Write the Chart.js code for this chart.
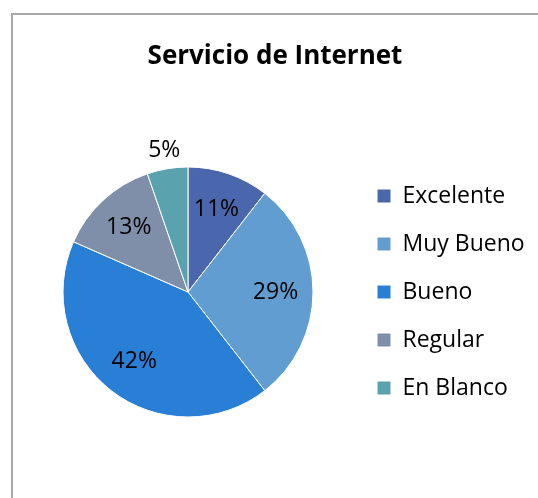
<!DOCTYPE html>
<html>
<head>
<meta charset="utf-8">
<script src="https://cdn.jsdelivr.net/npm/chart.js@4/dist/chart.umd.min.js"></script>
<style>
  html, body { margin: 0; padding: 0; background: #fff; overflow: hidden; }
  .frame {
    position: absolute; left: 11px; top: 13px; width: 600px; height: 600px;
    border-left: 2px solid #a8a8a8; border-top: 2px solid #a8a8a8;
  }
  .wrap { position: absolute; left: 0; top: 0; width: 538px; height: 498px; }
</style>
</head>
<body>
<div class="frame"></div>
<div class="wrap"><canvas id="graph" width="538" height="498"></canvas></div>
<script>
// categorias y respuestas (conteos)
const categories = ['Excelente', 'Muy Bueno', 'Bueno', 'Regular', 'En Blanco'];
const counts = [4, 11, 16, 5, 2];
const colors = ['#4A66AC', '#629DD1', '#297FD5', '#7F8FA9', '#5AA2AE'];
const title = 'Servicio de Internet';

const fontFamily = '"Open Sans", "Noto Sans", sans-serif';

// porcentajes sobre cada porcion (small slices go outside)
const pctLabels = {
  id: 'pctLabels',
  afterDatasetsDraw(chart) {
    const ctx = chart.ctx;
    const meta = chart.getDatasetMeta(0);
    const values = chart.data.datasets[0].data;
    const total = values.reduce((a, b) => a + b, 0);
    ctx.save();
    ctx.font = '23px ' + fontFamily;
    ctx.fillStyle = '#000';
    ctx.textAlign = 'center';
    ctx.textBaseline = 'middle';
    meta.data.forEach((arc, i) => {
      const p = arc.getProps(['x', 'y', 'startAngle', 'endAngle', 'outerRadius'], true);
      const pct = values[i] / total;
      const mid = (p.startAngle + p.endAngle) / 2;
      const dist = pct < 0.08 ? p.outerRadius + 19 : p.outerRadius * 0.7;
      const x = p.x + Math.cos(mid) * dist;
      const y = p.y + Math.sin(mid) * dist;
      ctx.fillText(Math.round(pct * 100) + '%', x, y);
    });
    ctx.restore();
  }
};

var ctx = document.getElementById('graph').getContext('2d');
var chart = new Chart(ctx, {
  type: 'pie',
  data: {
    labels: categories,
    datasets: [{
      data: counts,
      backgroundColor: colors,
      borderColor: '#ffffff',
      borderWidth: 1,
      radius: 125
    }]
  },
  options: {
    responsive: false,
    animation: false,
    layout: { padding: { left: 24, right: 12, top: 0, bottom: 24 } },
    plugins: {
      title: {
        display: true,
        text: title,
        color: '#000',
        font: { family: fontFamily, size: 26, weight: 'bold' },
        padding: { top: 41.4, bottom: 37.4 }
      },
      legend: {
        position: 'right',
        align: 'center',
        fullSize: false,
        maxWidth: 174,
        labels: {
          boxWidth: 14,
          boxHeight: 14,
          padding: 25,
          color: '#000',
          font: { family: fontFamily, size: 23 }
        }
      },
      tooltip: { enabled: false }
    }
  },
  plugins: [pctLabels]
});
</script>
</body>
</html>
